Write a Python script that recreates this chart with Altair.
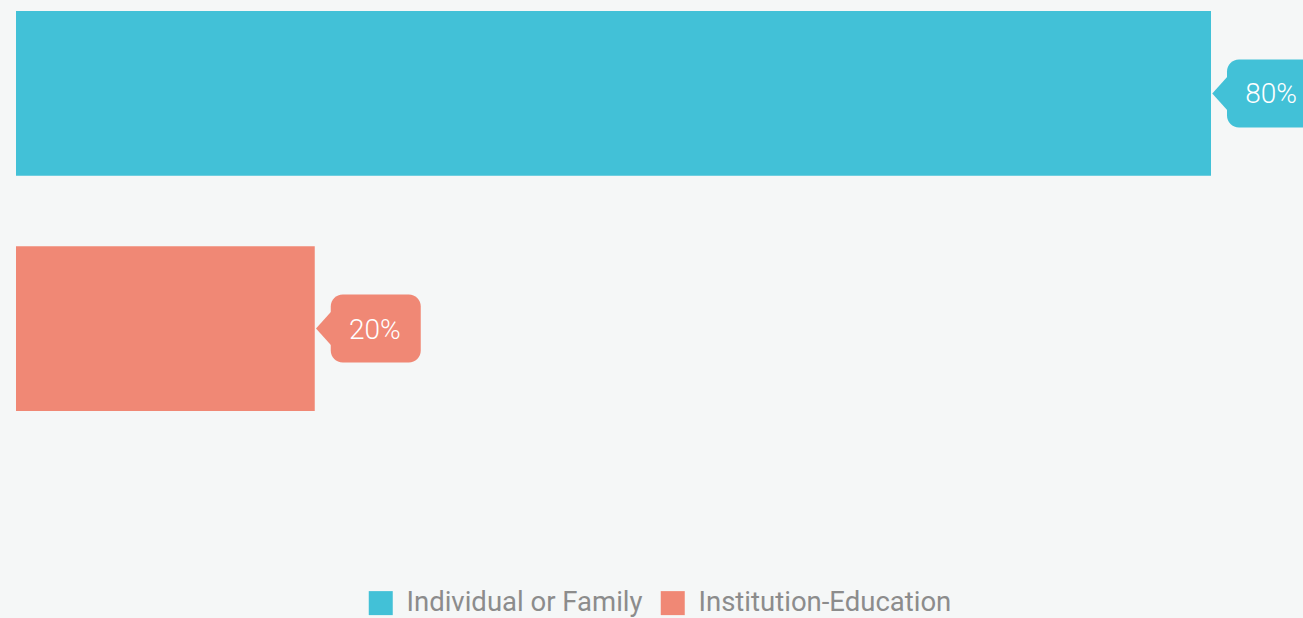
import altair as alt
import pandas as pd

categories = ["Individual or Family", "Institution-Education"]
values = [80, 20]
labels = ["80%", "20%"]
colors = ["#42C1D7", "#F08875"]

df = pd.DataFrame({"category": categories, "value": values, "label": labels})

x = alt.X("value:Q", scale=alt.Scale(domain=[0, 80], nice=False, zero=True), axis=None)
y = alt.Y("category:N", sort=None, axis=None,
          scale=alt.Scale(paddingInner=0.3, paddingOuter=0.047))
color = alt.Color("category:N", sort=None,
                  scale=alt.Scale(domain=categories, range=colors),
                  legend=alt.Legend(title=None, orient="none", direction="horizontal",
                                    legendX=351, legendY=589,
                                    symbolType="square", symbolSize=576,
                                    symbolStrokeWidth=0, symbolOpacity=1,
                                    labelFont="Roboto", labelFontSize=27.5,
                                    labelLimit=500,
                                    labelColor="#8c8c8c", labelOffset=12,
                                    columnPadding=16, padding=0))

base = alt.Chart(df).encode(y=y, color=color)

bars = base.mark_bar(opacity=1).encode(x=x)

box = base.mark_bar(xOffset=16, x2Offset=106, height=68, cornerRadius=12, opacity=1).encode(
    x=x, x2="value:Q")

pointer = base.mark_point(shape="M -0.9 0 L 0 -1 L 0 1 Z", size=1225, filled=True,
                          opacity=1, xOffset=17, strokeWidth=0).encode(x=x)

text = alt.Chart(df).mark_text(xOffset=60, dy=2, font="Roboto", fontWeight=300, fontSize=28,
                               color="white", align="center", baseline="middle").encode(
    x=x, y=y, text="label:N")

chart = alt.layer(bars, box, pointer, text).properties(
    width=1195, height=422,
    autosize=alt.AutoSizeParams(type="none"),
    padding={"left": 16, "top": 0, "right": 92, "bottom": 196},
    background="#F5F7F7",
).configure_view(stroke=None)

chart.save("out.html", embed_options={"renderer": "svg", "actions": False})
